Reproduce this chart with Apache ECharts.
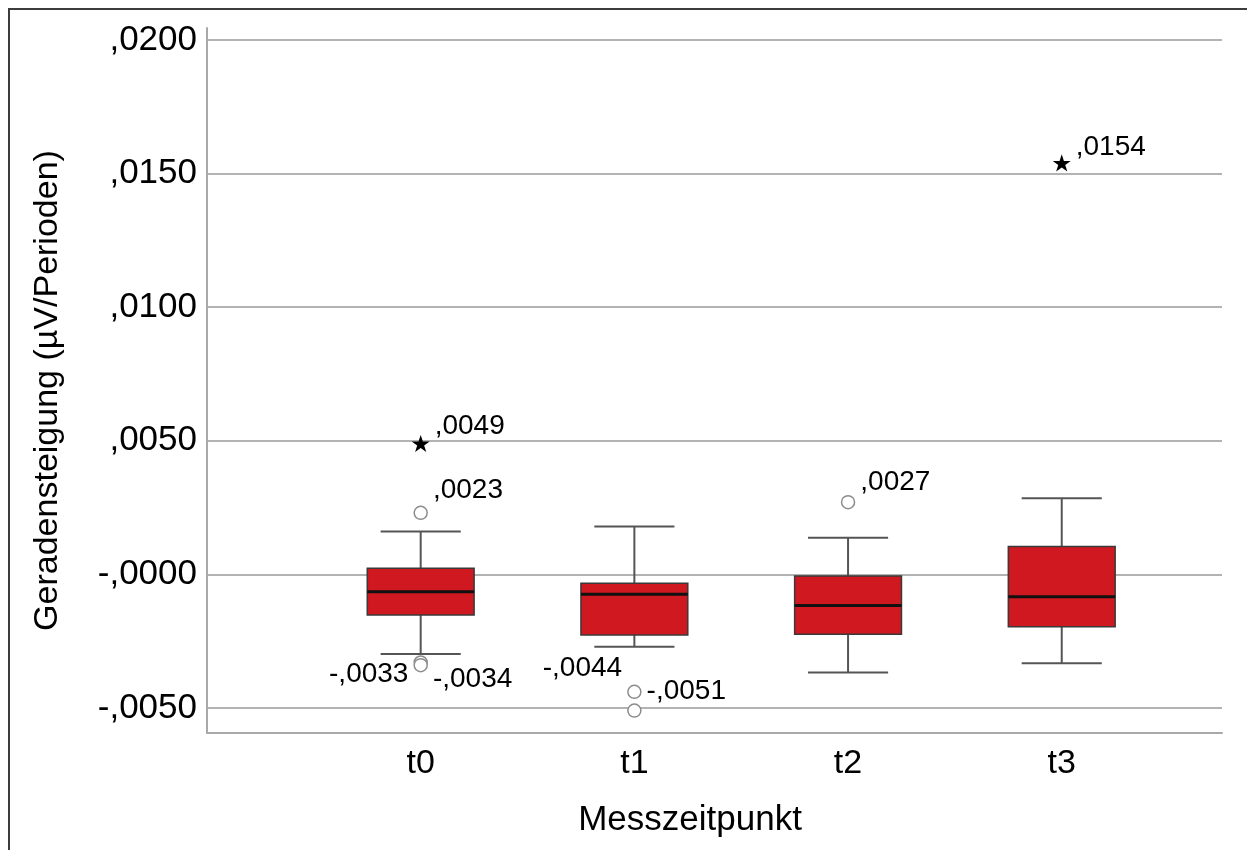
<!DOCTYPE html>
<html>
<head>
<meta charset="utf-8">
<title>Geradensteigung je Messzeitpunkt</title>
<script src="https://cdn.jsdelivr.net/npm/echarts@6/dist/echarts.min.js"></script>
<style>
  html, body { margin: 0; padding: 0; background: #ffffff; }
  #chart { width: 1247px; height: 850px; }
</style>
</head>
<body>
<div id="chart"></div>
<script>
// Measurement points (x positions 0..3)
const categories = ['t0', 't1', 't2', 't3'];

// Box statistics per measurement point
const whiskerLow  = [-0.00298, -0.00271, -0.00368, -0.00333];
const quartile1   = [-0.00152, -0.00227, -0.00224, -0.00196];
const medians     = [-0.00065, -0.00075, -0.00117, -0.00084];
const quartile3   = [ 0.00023, -0.00033, -0.00006,  0.00104];
const whiskerHigh = [ 0.00160,  0.00179,  0.00137,  0.00285];

// Outliers: [category index, value]
const mildOutliers = [[0, 0.0023], [0, -0.0033], [0, -0.0034], [1, -0.0044], [1, -0.0051], [2, 0.0027]];
const extremeOutliers = [[0, 0.0049], [3, 0.0154]];

// Value-axis tick labels in SPSS notation
const yTickValues = [-0.005, 0, 0.005, 0.010, 0.015, 0.020];
const yTickLabels = ['-,0050', '-,0000', ',0050', ',0100', ',0150', ',0200'];

// Label placement for the outlier annotations (same order as the outlier arrays)
const mildLabelPlacement = [
  { position: 'right', offset: [0, -23] },
  { position: 'left',  offset: [0, 12] },
  { position: 'right', offset: [0, 14] },
  { position: 'left',  offset: [0, -24] },
  { position: 'right', offset: [0, -19] },
  { position: 'right', offset: [0, -20] }
];
const extremeLabelPlacement = [
  { position: 'right', offset: [0, -17] },
  { position: 'right', offset: [0, -16] }
];

const FONT = "'Liberation Sans', Arial, sans-serif";
const INK = '#000000';

function spssFormat(v) {
  const s = Math.abs(v).toFixed(4).replace(/^0\./, ',');
  return (v < 0 ? '-' : '') + s;
}

const boxData = categories.map((c, i) => [i, whiskerLow[i], quartile1[i], medians[i], quartile3[i], whiskerHigh[i]]);

const STAR = 'path://M50,0 L61.8,35.1 L98.5,35.1 L68.8,57 L80.1,92 L50,70.4 L19.9,92 L31.2,57 L1.5,35.1 L38.2,35.1 Z';

function renderBox(params, api) {
  const x = api.value(0);
  const lo = api.coord([x, api.value(1)]);
  const q1 = api.coord([x, api.value(2)]);
  const md = api.coord([x, api.value(3)]);
  const q3 = api.coord([x, api.value(4)]);
  const hi = api.coord([x, api.value(5)]);
  const halfBox = api.size([0.25, 0])[0];
  const halfCap = api.size([0.1875, 0])[0];
  const cx = md[0];
  const whiskerStyle = { stroke: '#555555', lineWidth: 2 };
  return {
    type: 'group',
    children: [
      { type: 'line', shape: { x1: cx, y1: hi[1], x2: cx, y2: q3[1] }, style: whiskerStyle },
      { type: 'line', shape: { x1: cx, y1: q1[1], x2: cx, y2: lo[1] }, style: whiskerStyle },
      { type: 'line', shape: { x1: cx - halfCap, y1: hi[1], x2: cx + halfCap, y2: hi[1] }, style: whiskerStyle },
      { type: 'line', shape: { x1: cx - halfCap, y1: lo[1], x2: cx + halfCap, y2: lo[1] }, style: whiskerStyle },
      { type: 'rect', shape: { x: cx - halfBox, y: q3[1], width: halfBox * 2, height: q1[1] - q3[1] },
        style: { fill: '#cf1820', stroke: '#3a3a3a', lineWidth: 1.5 } },
      { type: 'line', shape: { x1: cx - halfBox, y1: md[1], x2: cx + halfBox, y2: md[1] },
        style: { stroke: '#111111', lineWidth: 3 } }
    ]
  };
}

const outlierLabel = (placement) => ({
  show: true,
  position: placement.position,
  offset: placement.offset,
  distance: 5,
  formatter: p => spssFormat(p.value[1]),
  fontSize: 28, color: INK, fontFamily: FONT
});

const chart = echarts.init(document.getElementById('chart'), null, { renderer: 'canvas' });

chart.setOption({
  backgroundColor: '#ffffff',
  animation: false,
  textStyle: { fontFamily: FONT },
  graphic: [{
    type: 'polyline',
    shape: { points: [[9, 850], [9, 9], [1247, 9]] },
    style: { stroke: '#3c3c3c', lineWidth: 2, fill: null },
    z: 100
  }],
  grid: { left: 207, right: 25, top: 28, bottom: 117, containLabel: false },
  xAxis: {
    type: 'value',
    min: -1,
    max: 3.75,
    interval: 1,
    name: 'Messzeitpunkt',
    nameLocation: 'middle',
    nameGap: 70,
    nameTextStyle: { fontSize: 35, color: INK, fontFamily: FONT, padding: [0, 49, 0, 0] },
    axisLine: { show: true, onZero: false, lineStyle: { color: '#a9a9a9', width: 2 } },
    axisTick: { show: false },
    splitLine: { show: false },
    axisLabel: {
      fontSize: 34, color: INK, fontFamily: FONT, margin: 14,
      formatter: v => (Number.isInteger(v) && v >= 0 && v < categories.length) ? categories[v] : ''
    }
  },
  yAxis: {
    type: 'value',
    min: -0.00594,
    max: 0.02045,
    splitNumber: 5,
    minInterval: 0.005,
    maxInterval: 0.005,
    name: 'Geradensteigung (µV/Perioden)',
    nameLocation: 'middle',
    nameGap: 142,
    nameRotate: 90,
    nameTextStyle: { fontSize: 34, color: INK, fontFamily: FONT, padding: [0, 20, 0, 0] },
    axisLine: { show: true, onZero: false, lineStyle: { color: '#a9a9a9', width: 2 } },
    axisTick: { show: false },
    splitLine: { show: true, showMinLine: false, showMaxLine: false, lineStyle: { color: '#b3b3b3', width: 2 } },
    axisLabel: {
      fontSize: 35, color: INK, fontFamily: FONT, margin: 10,
      showMinLabel: false, showMaxLabel: false,
      formatter: v => {
        const i = yTickValues.findIndex(t => Math.abs(t - v) < 1e-9);
        return i >= 0 ? yTickLabels[i] : '';
      }
    }
  },
  series: [
    {
      type: 'custom',
      name: 'Box',
      renderItem: renderBox,
      encode: { x: 0, y: [1, 2, 3, 4, 5] },
      data: boxData,
      z: 3
    },
    {
      type: 'scatter',
      name: 'Ausreißer',
      symbol: 'circle',
      symbolSize: 13,
      itemStyle: { color: '#ffffff', borderColor: '#8c8c8c', borderWidth: 1.5, opacity: 1 },
      data: mildOutliers.map((d, i) => ({ value: d, label: outlierLabel(mildLabelPlacement[i]) })),
      z: 5
    },
    {
      type: 'scatter',
      name: 'Extremwerte',
      symbol: STAR,
      symbolKeepAspect: true,
      symbolSize: 18,
      itemStyle: { color: '#000000', opacity: 1 },
      data: extremeOutliers.map((d, i) => ({ value: d, label: outlierLabel(extremeLabelPlacement[i]) })),
      z: 5
    }
  ]
});
</script>
</body>
</html>
